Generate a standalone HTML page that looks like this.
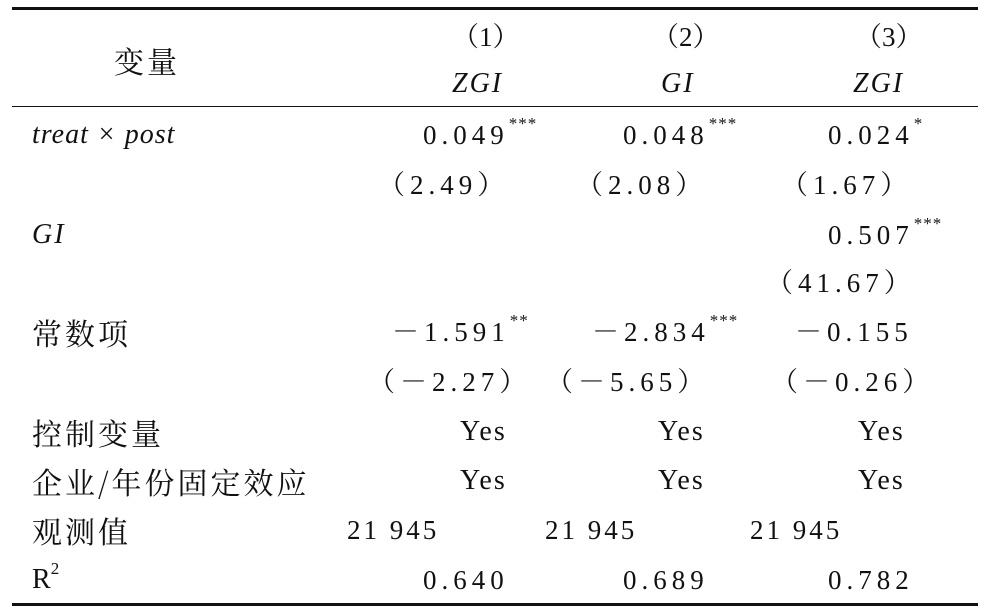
<!DOCTYPE html>
<html><head><meta charset="utf-8"><style>
body{margin:0;width:992px;height:608px;background:#fff;position:relative;overflow:hidden;font-family:"Liberation Serif","Noto Serif CJK SC",serif;color:#111}
.r{position:absolute;height:30px;line-height:30px;font-size:27px;white-space:nowrap}
.n{letter-spacing:5px}
.o{letter-spacing:3px}
.c{font-family:"Noto Serif CJK SC","Liberation Serif",serif;font-size:30px;letter-spacing:3px}
.i{font-style:italic}
.y{letter-spacing:2px;font-size:28px}
sup{font-size:17px;vertical-align:top;line-height:14px;position:relative;top:-3px;letter-spacing:1px}
.rule{position:absolute;left:12px;width:966px;background:#111}
</style></head><body>
<div class="rule" style="top:7px;height:3px"></div>
<div class="rule" style="top:106px;height:1px"></div>
<div class="rule" style="top:603px;height:3px"></div>

<div class="r c" style="left:114px;top:45px">变量</div>
<div class="r" style="left:452px;top:22px">（1）</div>
<div class="r" style="left:652px;top:22px">（2）</div>
<div class="r" style="left:855px;top:22px">（3）</div>
<div class="r i" style="left:452px;top:69px;letter-spacing:2px;font-size:28px">ZGI</div>
<div class="r i" style="left:661px;top:69px;letter-spacing:2px;font-size:28px">GI</div>
<div class="r i" style="left:853px;top:69px;letter-spacing:2px;font-size:28px">ZGI</div>

<div class="r i" style="left:32px;top:120px;letter-spacing:1px;font-size:28px">treat × post</div>
<div class="r i" style="left:32px;top:220px;font-size:28px;letter-spacing:2px">GI</div>
<div class="r c" style="left:32px;top:317px">常数项</div>
<div class="r c" style="left:32px;top:417px">控制变量</div>
<div class="r c" style="left:32px;top:466px">企业/年份固定效应</div>
<div class="r c" style="left:32px;top:515px">观测值</div>
<div class="r" style="left:32px;top:565px;font-size:28px">R<sup>2</sup></div>

<!-- col1 -->
<div class="r n" style="left:423px;top:120px">0.049<sup>***</sup></div>
<div class="r n" style="left:378px;top:170px">（2.49）</div>
<div class="r n" style="left:392px;top:317px">－1.591<sup>**</sup></div>
<div class="r n" style="left:368px;top:367px">（－2.27）</div>
<div class="r y" style="left:460px;top:417px">Yes</div>
<div class="r y" style="left:460px;top:466px">Yes</div>
<div class="r o" style="left:347px;top:515px">21 945</div>
<div class="r n" style="left:423px;top:565px">0.640</div>
<!-- col2 -->
<div class="r n" style="left:623px;top:120px">0.048<sup>***</sup></div>
<div class="r n" style="left:576px;top:170px">（2.08）</div>
<div class="r n" style="left:592px;top:317px">－2.834<sup>***</sup></div>
<div class="r n" style="left:546px;top:367px">（－5.65）</div>
<div class="r y" style="left:658px;top:417px">Yes</div>
<div class="r y" style="left:658px;top:466px">Yes</div>
<div class="r o" style="left:545px;top:515px">21 945</div>
<div class="r n" style="left:623px;top:565px">0.689</div>
<!-- col3 -->
<div class="r n" style="left:828px;top:120px">0.024<sup>*</sup></div>
<div class="r n" style="left:781px;top:170px">（1.67）</div>
<div class="r n" style="left:828px;top:220px">0.507<sup>***</sup></div>
<div class="r n" style="left:766px;top:268px">（41.67）</div>
<div class="r n" style="left:795px;top:317px">－0.155</div>
<div class="r n" style="left:771px;top:367px">（－0.26）</div>
<div class="r y" style="left:858px;top:417px">Yes</div>
<div class="r y" style="left:858px;top:466px">Yes</div>
<div class="r o" style="left:750px;top:515px">21 945</div>
<div class="r n" style="left:828px;top:565px">0.782</div>
</body></html>
